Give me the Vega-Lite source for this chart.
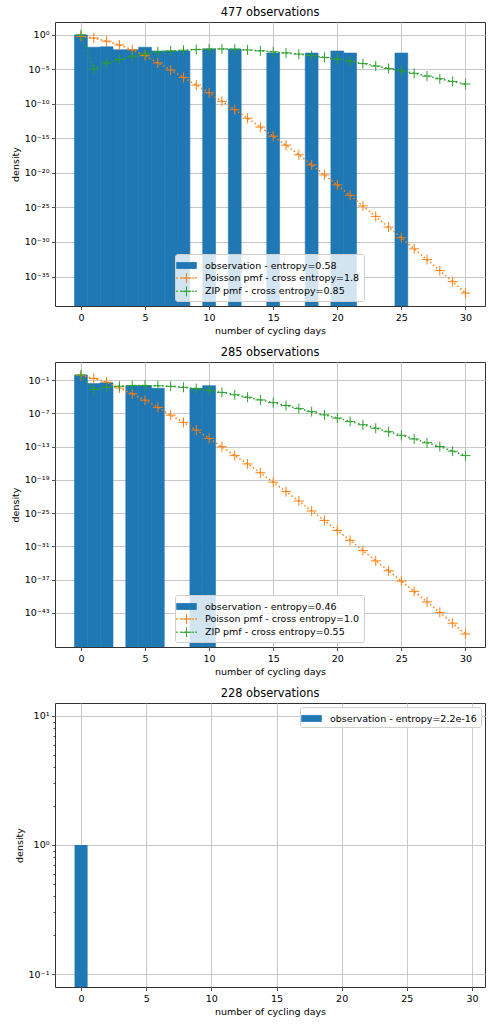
{
  "$schema": "https://vega.github.io/schema/vega-lite/v6.json",
  "padding": {"left": 9, "top": 6, "right": 2, "bottom": 3},
  "config": {
    "font": "DejaVu Sans",
    "view": {"stroke": "#333333", "strokeWidth": 1},
    "axis": {
      "labelFont": "DejaVu Sans", "labelFontSize": 9.5, "labelColor": "#000000",
      "titleFont": "DejaVu Sans", "titleFontSize": 9.5, "titleFontWeight": "normal", "titleColor": "#000000",
      "tickColor": "#222222", "tickSize": 3.5, "tickWidth": 0.8, "domain": false,
      "gridColor": "#c8c8c8", "gridWidth": 1, "labelPadding": 2.5, "titlePadding": 4, "zindex": 1
    },
    "title": {"font": "DejaVu Sans", "fontSize": 11.4, "fontWeight": "normal", "color": "#000000", "offset": 4},
    "legend": {
      "labelFont": "DejaVu Sans", "labelFontSize": 9.5, "labelColor": "#000000", "labelLimit": 400,
      "fillColor": "rgba(255,255,255,0.8)", "strokeColor": "#d0d0d0", "cornerRadius": 2.5,
      "padding": 4, "symbolSize": 200, "symbolStrokeWidth": 0, "rowPadding": 0.4, "labelOffset": 11, "zindex": 2
    }
  },
  "datasets": {
    "obs1": [
      {"bin_start": -0.5, "bin_end": 0.5, "density": 0.899},
      {"bin_start": 0.5, "bin_end": 1.5, "density": 0.0147},
      {"bin_start": 1.5, "bin_end": 2.5, "density": 0.0168},
      {"bin_start": 2.5, "bin_end": 3.5, "density": 0.00629},
      {"bin_start": 3.5, "bin_end": 4.5, "density": 0.00629},
      {"bin_start": 4.5, "bin_end": 5.5, "density": 0.0147},
      {"bin_start": 5.5, "bin_end": 6.5, "density": 0.00419},
      {"bin_start": 6.5, "bin_end": 7.5, "density": 0.00419},
      {"bin_start": 7.5, "bin_end": 8.5, "density": 0.00419},
      {"bin_start": 9.5, "bin_end": 10.5, "density": 0.00839},
      {"bin_start": 11.5, "bin_end": 12.5, "density": 0.00839},
      {"bin_start": 14.5, "bin_end": 15.5, "density": 0.0021},
      {"bin_start": 17.5, "bin_end": 18.5, "density": 0.0021},
      {"bin_start": 19.5, "bin_end": 20.5, "density": 0.00419},
      {"bin_start": 20.5, "bin_end": 21.5, "density": 0.0021},
      {"bin_start": 24.5, "bin_end": 25.5, "density": 0.0021}
    ],
    "pmf1": [
      {"k": 0, "pmf": 0.537, "series": "Poisson pmf - cross entropy=1.8"},
      {"k": 1, "pmf": 0.316, "series": "Poisson pmf - cross entropy=1.8"},
      {"k": 2, "pmf": 0.112, "series": "Poisson pmf - cross entropy=1.8"},
      {"k": 3, "pmf": 0.0316, "series": "Poisson pmf - cross entropy=1.8"},
      {"k": 4, "pmf": 6.3e-3, "series": "Poisson pmf - cross entropy=1.8"},
      {"k": 5, "pmf": 8.9e-4, "series": "Poisson pmf - cross entropy=1.8"},
      {"k": 6, "pmf": 7.9e-5, "series": "Poisson pmf - cross entropy=1.8"},
      {"k": 7, "pmf": 7.4e-6, "series": "Poisson pmf - cross entropy=1.8"},
      {"k": 8, "pmf": 6.3e-7, "series": "Poisson pmf - cross entropy=1.8"},
      {"k": 9, "pmf": 5.0e-8, "series": "Poisson pmf - cross entropy=1.8"},
      {"k": 10, "pmf": 3.7e-9, "series": "Poisson pmf - cross entropy=1.8"},
      {"k": 11, "pmf": 2.2e-10, "series": "Poisson pmf - cross entropy=1.8"},
      {"k": 12, "pmf": 1.35e-11, "series": "Poisson pmf - cross entropy=1.8"},
      {"k": 13, "pmf": 7.9e-13, "series": "Poisson pmf - cross entropy=1.8"},
      {"k": 14, "pmf": 4.2e-14, "series": "Poisson pmf - cross entropy=1.8"},
      {"k": 15, "pmf": 2.0e-15, "series": "Poisson pmf - cross entropy=1.8"},
      {"k": 16, "pmf": 1.0e-16, "series": "Poisson pmf - cross entropy=1.8"},
      {"k": 17, "pmf": 4.0e-18, "series": "Poisson pmf - cross entropy=1.8"},
      {"k": 18, "pmf": 1.4e-19, "series": "Poisson pmf - cross entropy=1.8"},
      {"k": 19, "pmf": 5.0e-21, "series": "Poisson pmf - cross entropy=1.8"},
      {"k": 20, "pmf": 1.8e-22, "series": "Poisson pmf - cross entropy=1.8"},
      {"k": 21, "pmf": 5.6e-24, "series": "Poisson pmf - cross entropy=1.8"},
      {"k": 22, "pmf": 1.6e-25, "series": "Poisson pmf - cross entropy=1.8"},
      {"k": 23, "pmf": 5.0e-27, "series": "Poisson pmf - cross entropy=1.8"},
      {"k": 24, "pmf": 1.4e-28, "series": "Poisson pmf - cross entropy=1.8"},
      {"k": 25, "pmf": 4.0e-30, "series": "Poisson pmf - cross entropy=1.8"},
      {"k": 26, "pmf": 1.0e-31, "series": "Poisson pmf - cross entropy=1.8"},
      {"k": 27, "pmf": 2.8e-33, "series": "Poisson pmf - cross entropy=1.8"},
      {"k": 28, "pmf": 7.1e-35, "series": "Poisson pmf - cross entropy=1.8"},
      {"k": 29, "pmf": 1.8e-36, "series": "Poisson pmf - cross entropy=1.8"},
      {"k": 30, "pmf": 4.0e-38, "series": "Poisson pmf - cross entropy=1.8"},
      {"k": 0, "pmf": 0.9, "series": "ZIP pmf - cross entropy=0.85"},
      {"k": 1, "pmf": 1.0e-5, "series": "ZIP pmf - cross entropy=0.85"},
      {"k": 2, "pmf": 7.9e-5, "series": "ZIP pmf - cross entropy=0.85"},
      {"k": 3, "pmf": 2.5e-4, "series": "ZIP pmf - cross entropy=0.85"},
      {"k": 4, "pmf": 7.1e-4, "series": "ZIP pmf - cross entropy=0.85"},
      {"k": 5, "pmf": 1.6e-3, "series": "ZIP pmf - cross entropy=0.85"},
      {"k": 6, "pmf": 3.2e-3, "series": "ZIP pmf - cross entropy=0.85"},
      {"k": 7, "pmf": 4.2e-3, "series": "ZIP pmf - cross entropy=0.85"},
      {"k": 8, "pmf": 5.4e-3, "series": "ZIP pmf - cross entropy=0.85"},
      {"k": 9, "pmf": 6.8e-3, "series": "ZIP pmf - cross entropy=0.85"},
      {"k": 10, "pmf": 7.9e-3, "series": "ZIP pmf - cross entropy=0.85"},
      {"k": 11, "pmf": 8.3e-3, "series": "ZIP pmf - cross entropy=0.85"},
      {"k": 12, "pmf": 7.6e-3, "series": "ZIP pmf - cross entropy=0.85"},
      {"k": 13, "pmf": 6.0e-3, "series": "ZIP pmf - cross entropy=0.85"},
      {"k": 14, "pmf": 4.5e-3, "series": "ZIP pmf - cross entropy=0.85"},
      {"k": 15, "pmf": 3.2e-3, "series": "ZIP pmf - cross entropy=0.85"},
      {"k": 16, "pmf": 2.2e-3, "series": "ZIP pmf - cross entropy=0.85"},
      {"k": 17, "pmf": 1.5e-3, "series": "ZIP pmf - cross entropy=0.85"},
      {"k": 18, "pmf": 9.1e-4, "series": "ZIP pmf - cross entropy=0.85"},
      {"k": 19, "pmf": 5.0e-4, "series": "ZIP pmf - cross entropy=0.85"},
      {"k": 20, "pmf": 2.8e-4, "series": "ZIP pmf - cross entropy=0.85"},
      {"k": 21, "pmf": 1.4e-4, "series": "ZIP pmf - cross entropy=0.85"},
      {"k": 22, "pmf": 6.3e-5, "series": "ZIP pmf - cross entropy=0.85"},
      {"k": 23, "pmf": 2.8e-5, "series": "ZIP pmf - cross entropy=0.85"},
      {"k": 24, "pmf": 1.26e-5, "series": "ZIP pmf - cross entropy=0.85"},
      {"k": 25, "pmf": 5.6e-6, "series": "ZIP pmf - cross entropy=0.85"},
      {"k": 26, "pmf": 2.5e-6, "series": "ZIP pmf - cross entropy=0.85"},
      {"k": 27, "pmf": 1.0e-6, "series": "ZIP pmf - cross entropy=0.85"},
      {"k": 28, "pmf": 4.0e-7, "series": "ZIP pmf - cross entropy=0.85"},
      {"k": 29, "pmf": 1.66e-7, "series": "ZIP pmf - cross entropy=0.85"},
      {"k": 30, "pmf": 7.1e-8, "series": "ZIP pmf - cross entropy=0.85"}
    ],
    "obs2": [
      {"bin_start": -0.5, "bin_end": 0.5, "density": 0.902},
      {"bin_start": 0.5, "bin_end": 1.5, "density": 0.0246},
      {"bin_start": 1.5, "bin_end": 2.5, "density": 0.0351},
      {"bin_start": 3.5, "bin_end": 4.5, "density": 0.0105},
      {"bin_start": 4.5, "bin_end": 5.5, "density": 0.0105},
      {"bin_start": 5.5, "bin_end": 6.5, "density": 0.00351},
      {"bin_start": 8.5, "bin_end": 9.5, "density": 0.00351},
      {"bin_start": 9.5, "bin_end": 10.5, "density": 0.0105}
    ],
    "pmf2": [
      {"k": 0, "pmf": 0.68, "series": "Poisson pmf - cross entropy=1.0"},
      {"k": 1, "pmf": 0.21, "series": "Poisson pmf - cross entropy=1.0"},
      {"k": 2, "pmf": 0.045, "series": "Poisson pmf - cross entropy=1.0"},
      {"k": 3, "pmf": 4.0e-3, "series": "Poisson pmf - cross entropy=1.0"},
      {"k": 4, "pmf": 3.5e-4, "series": "Poisson pmf - cross entropy=1.0"},
      {"k": 5, "pmf": 2.5e-5, "series": "Poisson pmf - cross entropy=1.0"},
      {"k": 6, "pmf": 1.26e-6, "series": "Poisson pmf - cross entropy=1.0"},
      {"k": 7, "pmf": 5.0e-8, "series": "Poisson pmf - cross entropy=1.0"},
      {"k": 8, "pmf": 2.5e-9, "series": "Poisson pmf - cross entropy=1.0"},
      {"k": 9, "pmf": 1.0e-10, "series": "Poisson pmf - cross entropy=1.0"},
      {"k": 10, "pmf": 3.2e-12, "series": "Poisson pmf - cross entropy=1.0"},
      {"k": 11, "pmf": 1.0e-13, "series": "Poisson pmf - cross entropy=1.0"},
      {"k": 12, "pmf": 2.5e-15, "series": "Poisson pmf - cross entropy=1.0"},
      {"k": 13, "pmf": 7.9e-17, "series": "Poisson pmf - cross entropy=1.0"},
      {"k": 14, "pmf": 2.0e-18, "series": "Poisson pmf - cross entropy=1.0"},
      {"k": 15, "pmf": 4.0e-20, "series": "Poisson pmf - cross entropy=1.0"},
      {"k": 16, "pmf": 7.9e-22, "series": "Poisson pmf - cross entropy=1.0"},
      {"k": 17, "pmf": 1.6e-23, "series": "Poisson pmf - cross entropy=1.0"},
      {"k": 18, "pmf": 2.5e-25, "series": "Poisson pmf - cross entropy=1.0"},
      {"k": 19, "pmf": 5.0e-27, "series": "Poisson pmf - cross entropy=1.0"},
      {"k": 20, "pmf": 7.9e-29, "series": "Poisson pmf - cross entropy=1.0"},
      {"k": 21, "pmf": 1.26e-30, "series": "Poisson pmf - cross entropy=1.0"},
      {"k": 22, "pmf": 1.8e-32, "series": "Poisson pmf - cross entropy=1.0"},
      {"k": 23, "pmf": 2.5e-34, "series": "Poisson pmf - cross entropy=1.0"},
      {"k": 24, "pmf": 4.0e-36, "series": "Poisson pmf - cross entropy=1.0"},
      {"k": 25, "pmf": 5.6e-38, "series": "Poisson pmf - cross entropy=1.0"},
      {"k": 26, "pmf": 7.9e-40, "series": "Poisson pmf - cross entropy=1.0"},
      {"k": 27, "pmf": 1.0e-41, "series": "Poisson pmf - cross entropy=1.0"},
      {"k": 28, "pmf": 1.26e-43, "series": "Poisson pmf - cross entropy=1.0"},
      {"k": 29, "pmf": 1.4e-45, "series": "Poisson pmf - cross entropy=1.0"},
      {"k": 30, "pmf": 1.6e-47, "series": "Poisson pmf - cross entropy=1.0"},
      {"k": 0, "pmf": 0.9, "series": "ZIP pmf - cross entropy=0.55"},
      {"k": 1, "pmf": 2.1e-3, "series": "ZIP pmf - cross entropy=0.55"},
      {"k": 2, "pmf": 5.5e-3, "series": "ZIP pmf - cross entropy=0.55"},
      {"k": 3, "pmf": 8.3e-3, "series": "ZIP pmf - cross entropy=0.55"},
      {"k": 4, "pmf": 0.0107, "series": "ZIP pmf - cross entropy=0.55"},
      {"k": 5, "pmf": 0.011, "series": "ZIP pmf - cross entropy=0.55"},
      {"k": 6, "pmf": 0.01, "series": "ZIP pmf - cross entropy=0.55"},
      {"k": 7, "pmf": 7.9e-3, "series": "ZIP pmf - cross entropy=0.55"},
      {"k": 8, "pmf": 5.2e-3, "series": "ZIP pmf - cross entropy=0.55"},
      {"k": 9, "pmf": 3.0e-3, "series": "ZIP pmf - cross entropy=0.55"},
      {"k": 10, "pmf": 1.5e-3, "series": "ZIP pmf - cross entropy=0.55"},
      {"k": 11, "pmf": 6.3e-4, "series": "ZIP pmf - cross entropy=0.55"},
      {"k": 12, "pmf": 2.4e-4, "series": "ZIP pmf - cross entropy=0.55"},
      {"k": 13, "pmf": 8.5e-5, "series": "ZIP pmf - cross entropy=0.55"},
      {"k": 14, "pmf": 2.8e-5, "series": "ZIP pmf - cross entropy=0.55"},
      {"k": 15, "pmf": 8.9e-6, "series": "ZIP pmf - cross entropy=0.55"},
      {"k": 16, "pmf": 2.6e-6, "series": "ZIP pmf - cross entropy=0.55"},
      {"k": 17, "pmf": 7.6e-7, "series": "ZIP pmf - cross entropy=0.55"},
      {"k": 18, "pmf": 2.1e-7, "series": "ZIP pmf - cross entropy=0.55"},
      {"k": 19, "pmf": 5.6e-8, "series": "ZIP pmf - cross entropy=0.55"},
      {"k": 20, "pmf": 1.48e-8, "series": "ZIP pmf - cross entropy=0.55"},
      {"k": 21, "pmf": 3.7e-9, "series": "ZIP pmf - cross entropy=0.55"},
      {"k": 22, "pmf": 9.3e-10, "series": "ZIP pmf - cross entropy=0.55"},
      {"k": 23, "pmf": 2.2e-10, "series": "ZIP pmf - cross entropy=0.55"},
      {"k": 24, "pmf": 5.0e-11, "series": "ZIP pmf - cross entropy=0.55"},
      {"k": 25, "pmf": 1.17e-11, "series": "ZIP pmf - cross entropy=0.55"},
      {"k": 26, "pmf": 2.5e-12, "series": "ZIP pmf - cross entropy=0.55"},
      {"k": 27, "pmf": 5.2e-13, "series": "ZIP pmf - cross entropy=0.55"},
      {"k": 28, "pmf": 1.1e-13, "series": "ZIP pmf - cross entropy=0.55"},
      {"k": 29, "pmf": 1.6e-14, "series": "ZIP pmf - cross entropy=0.55"},
      {"k": 30, "pmf": 2.5e-15, "series": "ZIP pmf - cross entropy=0.55"}
    ],
    "obs3": [
      {"bin_start": -0.5, "bin_end": 0.5, "density": 1.0, "series": "observation - entropy=2.2e-16"}
    ]
  },
  "resolve": {
    "scale": {"x": "independent", "y": "independent", "color": "independent"},
    "legend": {"color": "independent"}
  },
  "spacing": 10,
  "vconcat": [
    {
      "title": "477 observations",
      "width": 430,
      "height": 284,
      "layer": [
        {
          "data": {"name": "obs1"},
          "mark": {"type": "bar", "color": "#1f77b4", "stroke": "#1f77b4", "strokeWidth": 0.6, "clip": true},
          "encoding": {
            "x": {"field": "bin_start", "type": "quantitative", "title": "number of cycling days",
              "scale": {"domain": [-2.025, 31.525], "nice": false, "zero": false},
              "axis": {"values": [0, 5, 10, 15, 20, 25, 30]}},
            "x2": {"field": "bin_end"},
            "y": {"field": "density", "type": "quantitative", "title": "density",
              "scale": {"type": "log", "domain": [5.4e-40, 66], "nice": false},
              "axis": {"values": [1, 1e-5, 1e-10, 1e-15, 1e-20, 1e-25, 1e-30, 1e-35],
                "labelExpr": "'10' + replace(replace(replace(replace(replace(replace(replace(replace(replace(replace(replace(toString(round(log(datum.value)/LN10)),'-','⁻'),'0','⁰'),'1','¹'),'2','²'),'3','³'),'4','⁴'),'5','⁵'),'6','⁶'),'7','⁷'),'8','⁸'),'9','⁹')"}},
            "y2": {"datum": 1e-60}
          }
        },
        {
          "data": {"name": "pmf1"},
          "mark": {"type": "line", "strokeDash": [1.5, 2.5], "strokeWidth": 1.5, "clip": true},
          "encoding": {
            "x": {"field": "k", "type": "quantitative", "scale": {"domain": [-2.025, 31.525], "nice": false, "zero": false}},
            "y": {"field": "pmf", "type": "quantitative", "scale": {"type": "log", "domain": [5.4e-40, 66], "nice": false}},
            "color": {"field": "series", "type": "nominal",
              "scale": {"domain": ["observation - entropy=0.58", "Poisson pmf - cross entropy=1.8", "ZIP pmf - cross entropy=0.85"],
                "range": ["#1f77b4", "#ff7f0e", "#2ca02c"]},
              "legend": {"title": null, "orient": "none", "legendX": 120, "legendY": 232,
                "encode": {"symbols": {"update": {
                  "shape": {"signal": "indexof(datum.value, 'observation') === 0 ? 'M-1.45,-0.48H1.45V0.48H-1.45Z' : 'M-1.45,-0.105h0.21v0.21h-0.21zM-0.88,-0.105h0.21v0.21h-0.21zM-0.31,-0.105h0.21v0.21h-0.21zM0.26,-0.105h0.21v0.21h-0.21zM0.83,-0.105h0.21v0.21h-0.21zM1.24,-0.105h0.21v0.21h-0.21zM-0.707,-0.07h1.414v0.14h-1.414zM-0.07,-0.707h0.14v1.414h-0.14z'"},
                  "fill": {"signal": "indexof(datum.value, 'Poisson') === 0 ? '#ff7f0e' : indexof(datum.value, 'ZIP') === 0 ? '#2ca02c' : '#1f77b4'"},
                  "stroke": {"value": "transparent"},
                  "strokeWidth": {"value": 0},
                  "opacity": {"value": 1},
                  "size": {"value": 200}
                }}}}}
          }
        },
        {
          "data": {"name": "pmf1"},
          "mark": {"type": "point", "shape": "M-1,0H1M0,-1V1", "size": 100, "filled": false, "strokeWidth": 1, "opacity": 1, "clip": true},
          "encoding": {
            "x": {"field": "k", "type": "quantitative", "scale": {"domain": [-2.025, 31.525], "nice": false, "zero": false}},
            "y": {"field": "pmf", "type": "quantitative", "scale": {"type": "log", "domain": [5.4e-40, 66], "nice": false}},
            "color": {"field": "series", "type": "nominal"}
          }
        }
      ]
    },
    {
      "title": "285 observations",
      "width": 430,
      "height": 285,
      "layer": [
        {
          "data": {"name": "obs2"},
          "mark": {"type": "bar", "color": "#1f77b4", "stroke": "#1f77b4", "strokeWidth": 0.6, "clip": true},
          "encoding": {
            "x": {"field": "bin_start", "type": "quantitative", "title": "number of cycling days",
              "scale": {"domain": [-2.025, 31.525], "nice": false, "zero": false},
              "axis": {"values": [0, 5, 10, 15, 20, 25, 30]}},
            "x2": {"field": "bin_end"},
            "y": {"field": "density", "type": "quantitative", "title": "density",
              "scale": {"type": "log", "domain": [7.2e-50, 195], "nice": false},
              "axis": {"values": [1e-1, 1e-7, 1e-13, 1e-19, 1e-25, 1e-31, 1e-37, 1e-43],
                "labelExpr": "'10' + replace(replace(replace(replace(replace(replace(replace(replace(replace(replace(replace(toString(round(log(datum.value)/LN10)),'-','⁻'),'0','⁰'),'1','¹'),'2','²'),'3','³'),'4','⁴'),'5','⁵'),'6','⁶'),'7','⁷'),'8','⁸'),'9','⁹')"}},
            "y2": {"datum": 1e-70}
          }
        },
        {
          "data": {"name": "pmf2"},
          "mark": {"type": "line", "strokeDash": [1.5, 2.5], "strokeWidth": 1.5, "clip": true},
          "encoding": {
            "x": {"field": "k", "type": "quantitative", "scale": {"domain": [-2.025, 31.525], "nice": false, "zero": false}},
            "y": {"field": "pmf", "type": "quantitative", "scale": {"type": "log", "domain": [7.2e-50, 195], "nice": false}},
            "color": {"field": "series", "type": "nominal",
              "scale": {"domain": ["observation - entropy=0.46", "Poisson pmf - cross entropy=1.0", "ZIP pmf - cross entropy=0.55"],
                "range": ["#1f77b4", "#ff7f0e", "#2ca02c"]},
              "legend": {"title": null, "orient": "none", "legendX": 120, "legendY": 233,
                "encode": {"symbols": {"update": {
                  "shape": {"signal": "indexof(datum.value, 'observation') === 0 ? 'M-1.45,-0.48H1.45V0.48H-1.45Z' : 'M-1.45,-0.105h0.21v0.21h-0.21zM-0.88,-0.105h0.21v0.21h-0.21zM-0.31,-0.105h0.21v0.21h-0.21zM0.26,-0.105h0.21v0.21h-0.21zM0.83,-0.105h0.21v0.21h-0.21zM1.24,-0.105h0.21v0.21h-0.21zM-0.707,-0.07h1.414v0.14h-1.414zM-0.07,-0.707h0.14v1.414h-0.14z'"},
                  "fill": {"signal": "indexof(datum.value, 'Poisson') === 0 ? '#ff7f0e' : indexof(datum.value, 'ZIP') === 0 ? '#2ca02c' : '#1f77b4'"},
                  "stroke": {"value": "transparent"},
                  "strokeWidth": {"value": 0},
                  "opacity": {"value": 1},
                  "size": {"value": 200}
                }}}}}
          }
        },
        {
          "data": {"name": "pmf2"},
          "mark": {"type": "point", "shape": "M-1,0H1M0,-1V1", "size": 100, "filled": false, "strokeWidth": 1, "opacity": 1, "clip": true},
          "encoding": {
            "x": {"field": "k", "type": "quantitative", "scale": {"domain": [-2.025, 31.525], "nice": false, "zero": false}},
            "y": {"field": "pmf", "type": "quantitative", "scale": {"type": "log", "domain": [7.2e-50, 195], "nice": false}},
            "color": {"field": "series", "type": "nominal"}
          }
        }
      ]
    },
    {
      "title": "228 observations",
      "width": 430,
      "height": 284,
      "layer": [
        {
          "data": {"name": "obs3"},
          "mark": {"type": "bar", "color": "#1f77b4", "clip": true},
          "encoding": {
            "x": {"field": "bin_start", "type": "quantitative", "title": "number of cycling days",
              "scale": {"domain": [-2.0, 31.0], "nice": false, "zero": false},
              "axis": {"values": [0, 5, 10, 15, 20, 25, 30]}},
            "x2": {"field": "bin_end"},
            "y": {"field": "density", "type": "quantitative", "title": "density",
              "scale": {"type": "log", "domain": [0.0794, 12.59], "nice": false},
              "axis": {"values": [0.1, 0.2, 0.3, 0.4, 0.5, 0.6, 0.7, 0.8, 0.9, 1, 2, 3, 4, 5, 6, 7, 8, 9, 10],
                "labelExpr": "abs(log(datum.value)/LN10 - round(log(datum.value)/LN10)) > 0.001 ? '' : '10' + replace(replace(replace(toString(round(log(datum.value)/LN10)),'-','⁻'),'0','⁰'),'1','¹')",
                "tickSize": {"condition": {"test": "abs(log(datum.value)/LN10 - round(log(datum.value)/LN10)) > 0.001", "value": 2}, "value": 3.5},
                "gridOpacity": {"condition": {"test": "abs(log(datum.value)/LN10 - round(log(datum.value)/LN10)) > 0.001", "value": 0}, "value": 1}}},
            "y2": {"datum": 1e-5},
            "color": {"field": "series", "type": "nominal",
              "scale": {"domain": ["observation - entropy=2.2e-16"], "range": ["#1f77b4"]},
              "legend": {"title": null, "orient": "top-right", "offset": 4,
                "encode": {"symbols": {"update": {
                  "shape": {"value": "M-1.45,-0.48H1.45V0.48H-1.45Z"},
                  "fill": {"value": "#1f77b4"},
                  "stroke": {"value": "transparent"},
                  "strokeWidth": {"value": 0},
                  "opacity": {"value": 1},
                  "size": {"value": 200}
                }}}}}
          }
        }
      ]
    }
  ]
}
